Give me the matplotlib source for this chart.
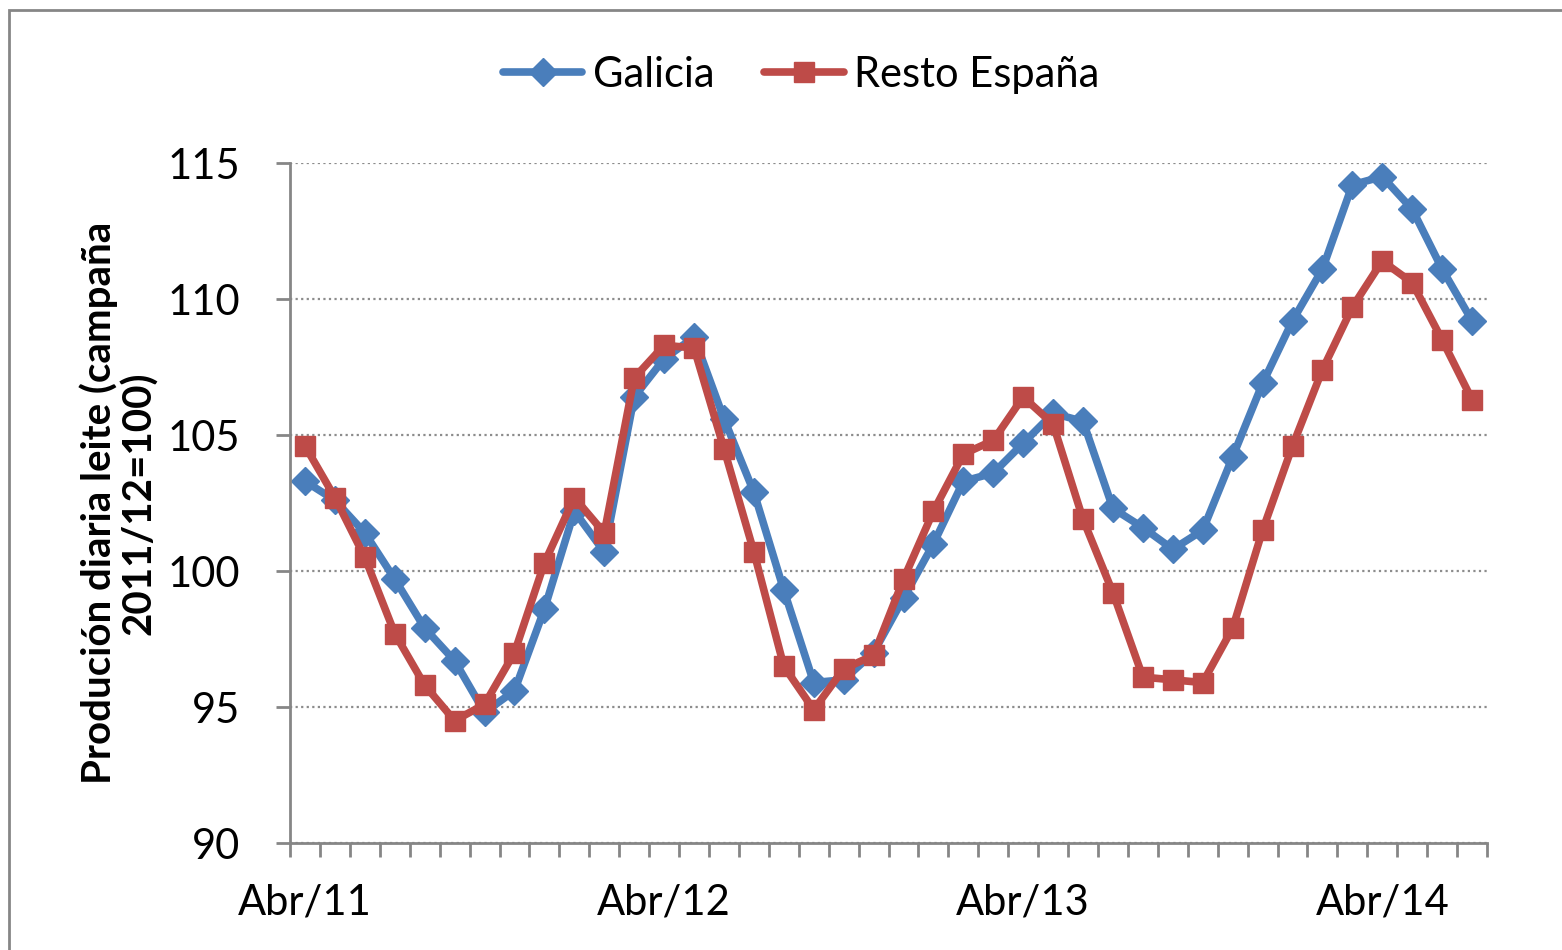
import matplotlib.pyplot as plt
from matplotlib.patches import Rectangle

# months Apr/11 .. Jul/14 (Galician abbreviations)
meses = ['Abr', 'Mai', 'Xuñ', 'Xul', 'Ago', 'Set', 'Out', 'Nov', 'Dec', 'Xan', 'Feb', 'Mar']
categorias = []
for anio in range(11, 15):
    for i, m in enumerate(meses):
        a = anio if i < 9 else anio + 1
        categorias.append('%s/%02d' % (m, a))
categorias = categorias[:40]

galicia = [103.3, 102.6, 101.4, 99.7, 97.9, 96.7, 94.8, 95.6, 98.6, 102.2,
           100.7, 106.4, 107.8, 108.6, 105.6, 102.9, 99.3, 95.9, 96.0, 97.0,
           99.0, 101.0, 103.3, 103.6, 104.7, 105.8, 105.5, 102.3, 101.6, 100.8,
           101.5, 104.2, 106.9, 109.2, 111.1, 114.2, 114.5, 113.3, 111.1, 109.2]
resto = [104.6, 102.7, 100.5, 97.7, 95.8, 94.5, 95.1, 97.0, 100.3, 102.7,
         101.4, 107.1, 108.3, 108.2, 104.5, 100.7, 96.5, 94.9, 96.4, 96.9,
         99.7, 102.2, 104.3, 104.8, 106.4, 105.4, 101.9, 99.2, 96.1, 96.0,
         95.9, 97.9, 101.5, 104.6, 107.4, 109.7, 111.4, 110.6, 108.5, 106.3]
etiquetas_x = ['Abr/11', 'Abr/12', 'Abr/13', 'Abr/14']
yticks = [90, 95, 100, 105, 110, 115]

plt.rcParams['font.family'] = ['Lato', 'DejaVu Sans']
azul = '#4A7EBB'
rojo = '#BE4B48'
gris = '#868686'

fig = plt.figure(figsize=(15.62, 9.5), dpi=100)
ax = fig.add_axes([0.1857, 0.1126, 0.7663, 0.7158])

x = list(range(len(categorias)))
ax.plot(x, galicia, color=azul, lw=5.5, marker='D', ms=14, label='Galicia',
        solid_joinstyle='round', solid_capstyle='round')
ax.plot(x, resto, color=rojo, lw=5.5, marker='s', ms=14, label='Resto España',
        solid_joinstyle='round', solid_capstyle='round')

ax.set_xlim(-0.5, len(categorias) - 0.5)
ax.set_ylim(90, 115)
ax.set_yticks(yticks)
ax.set_xticks([i - 0.5 for i in range(len(categorias) + 1)])
ax.set_xticklabels([])
pos = [categorias.index(e) for e in etiquetas_x]
ax.set_xticks(pos, minor=True)
ax.set_xticklabels(etiquetas_x, minor=True)
ax.tick_params(axis='x', which='minor', length=0, pad=29, labelsize=30)
ax.tick_params(axis='x', which='major', length=10, width=2, color=gris)
ax.tick_params(axis='y', length=10, width=2, color=gris, labelsize=30, pad=26)

ax.grid(axis='y', linestyle=(0, (1, 1.5)), color='#8c8c8c', lw=1.6)
ax.set_axisbelow(True)
for s in ['top', 'right']:
    ax.spines[s].set_visible(False)
for s in ['left', 'bottom']:
    ax.spines[s].set_color(gris)
    ax.spines[s].set_linewidth(2)

ax.set_ylabel('Produción diaria leite (campaña\n2011/12=100)', fontsize=29,
              fontweight='bold', linespacing=1.05)
ax.yaxis.set_label_coords(-0.143, 0.5)
ax.yaxis.label.set_verticalalignment('center')

fig.legend(loc='center', bbox_to_anchor=(0.513, 0.921), ncol=2, frameon=False,
           fontsize=30, handlelength=1.9, columnspacing=1.2, handletextpad=0.25)

fig.patches.append(Rectangle((0.006, -0.01), 1.1, 0.999, transform=fig.transFigure,
                             fill=False, edgecolor=gris, lw=2))

fig.savefig('out.png', dpi=100)
